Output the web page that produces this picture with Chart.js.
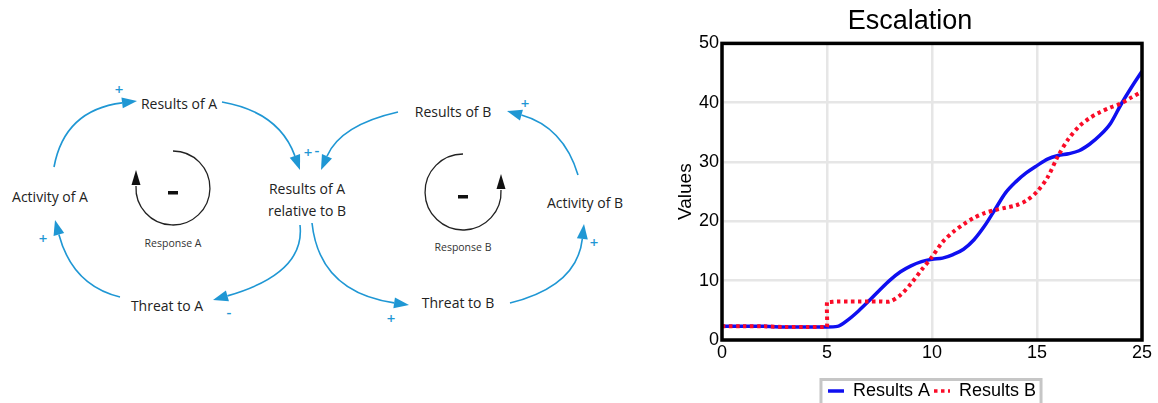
<!DOCTYPE html>
<html>
<head>
<meta charset="utf-8">
<script src="https://cdn.jsdelivr.net/npm/chart.js@4"></script>
<style>
  html, body { margin: 0; padding: 0; background: #fff; }
  #page { position: relative; width: 1158px; height: 403px; overflow: hidden; }
  #diagram { position: absolute; left: 0; top: 0; }
  #chartBox { position: absolute; left: 678px; top: 0; width: 480px; height: 403px; }
</style>
</head>
<body>
<div id="page">
  <svg id="diagram" width="670" height="403" xmlns="http://www.w3.org/2000/svg"></svg>
  <div id="chartBox"><canvas id="chart"></canvas></div>
</div>
<script>
// chart data
var title = 'Escalation';
var seriesNames = ['Results A', 'Results B'];
var xTickLabels = ['0', '5', '10', '15', '25'];

var timeA = [0, 1, 2, 3, 4, 5, 5.5, 6, 6.5, 7, 7.5, 8, 8.5, 9, 9.5, 10, 10.5, 11, 11.5, 12, 12.5, 13, 13.5, 14, 14.5, 15, 15.5, 16, 16.5, 17, 17.5, 18, 18.5, 19, 19.5, 20];
var resultsA = [2.3, 2.3, 2.3, 2.2, 2.2, 2.2, 2.3, 3.4, 4.9, 6.6, 8.4, 10.1, 11.5, 12.5, 13.2, 13.6, 13.8, 14.4, 15.3, 16.9, 19.2, 22.0, 24.8, 26.7, 28.2, 29.4, 30.5, 31.1, 31.4, 31.9, 33.0, 34.5, 36.5, 39.7, 42.6, 45.3];

var timeB = [0, 1, 2, 3, 4, 4.9, 5, 5, 5.1, 5.5, 6, 6.5, 7, 7.5, 8, 8.5, 9, 9.5, 10, 10.5, 11, 11.5, 12, 12.5, 13, 13.5, 14, 14.5, 15, 15.5, 16, 16.5, 17, 17.5, 18, 18.5, 19, 19.5, 20];
var resultsB = [2.3, 2.3, 2.3, 2.2, 2.2, 2.2, 2.2, 6.4, 6.4, 6.5, 6.5, 6.5, 6.5, 6.5, 6.5, 7.6, 9.5, 11.8, 14.0, 16.5, 18.2, 19.5, 20.6, 21.4, 21.9, 22.3, 22.7, 23.5, 25.0, 27.4, 31.0, 33.9, 36.0, 37.4, 38.4, 39.2, 39.9, 40.9, 41.9];

// causal loop diagram (plain svg, not a chart)
var svgNS = 'http://www.w3.org/2000/svg';
var svg = document.getElementById('diagram');
var linkBlue = '#1f97d4';

function el(name, attrs, text) {
  var e = document.createElementNS(svgNS, name);
  for (var k in attrs) e.setAttribute(k, attrs[k]);
  if (text) e.textContent = text;
  svg.appendChild(e);
  return e;
}

function label(x, y, str, size, color, weight) {
  el('text', {
    x: x, y: y, 'text-anchor': 'middle', 'dominant-baseline': 'central',
    'font-family': 'Open Sans, sans-serif', 'font-size': size,
    'font-weight': weight || 'normal', fill: color || '#222'
  }, str);
}

// curved arrow from p0 to tip p2, passing near mid
function link(p0, mid, p2) {
  var c = [2 * mid[0] - (p0[0] + p2[0]) / 2, 2 * mid[1] - (p0[1] + p2[1]) / 2];
  var dx = p2[0] - c[0], dy = p2[1] - c[1];
  var len = Math.hypot(dx, dy);
  var ux = dx / len, uy = dy / len;
  var L = 15, W = 5.5;
  var bx = p2[0] - ux * L, by = p2[1] - uy * L;
  el('path', {
    d: 'M' + p0[0] + ',' + p0[1] + ' Q' + c[0] + ',' + c[1] + ' ' + bx + ',' + by,
    fill: 'none', stroke: linkBlue, 'stroke-width': 1.6
  });
  el('polygon', {
    points: p2[0] + ',' + p2[1] + ' ' + (bx - uy * W) + ',' + (by + ux * W) + ' ' + (bx + uy * W) + ',' + (by - ux * W),
    fill: linkBlue
  });
}

function loopMark(cx, cy, r, clockwise, name) {
  var endX = clockwise ? cx - r : cx + r;
  el('path', {
    d: 'M' + cx + ',' + (cy - r) + ' A' + r + ',' + r + ' 0 1 ' + (clockwise ? 1 : 0) + ' ' + endX + ',' + (cy - 2),
    fill: 'none', stroke: '#222', 'stroke-width': 1.3
  });
  el('polygon', {
    points: endX + ',' + (cy - 18) + ' ' + (endX - 4.5) + ',' + (cy - 3) + ' ' + (endX + 4.5) + ',' + (cy - 3),
    fill: '#111'
  });
  el('rect', { x: cx - 5, y: cy + 3, width: 10, height: 3.5, fill: '#111' });
  label(cx, cy + 55, name, 10.5, '#333');
}

// loop A
link([54, 167], [80, 122], [137, 101]);
link([222, 102], [270, 124], [300, 170]);
link([300, 225], [281, 268], [213, 300]);
link([120, 297], [80, 272], [55, 220]);
// loop B
link([398, 112], [350, 133], [321, 170]);
link([578, 175], [553, 135], [507, 111]);
link([312, 223], [340, 278], [409, 305]);
link([510, 303], [562, 275], [584, 224]);

label(179, 103, 'Results of A', 14);
label(50, 196, 'Activity of A', 14);
label(167, 305, 'Threat to A', 14);
label(307, 188, 'Results of A', 14);
label(307, 210, 'relative to B', 14);
label(453, 111, 'Results of B', 14);
label(585, 202, 'Activity of B', 14);
label(458, 302, 'Threat to B', 14);

label(119, 89, '+', 15, linkBlue, 600);
label(308, 152, '+', 15, linkBlue, 600);
label(317, 149, '-', 15, linkBlue, 600);
label(43, 238, '+', 15, linkBlue, 600);
label(229, 311, '-', 15, linkBlue, 600);
label(525, 103, '+', 15, linkBlue, 600);
label(391, 318, '+', 15, linkBlue, 600);
label(594, 242, '+', 15, linkBlue, 600);

loopMark(173, 188, 37, true, 'Response A');
loopMark(463, 192, 38, false, 'Response B');

// line chart
var chartFont = 'Liberation Sans, Arial, sans-serif';

var frame = {
  id: 'frame',
  afterDraw: function(chart) {
    var ctx = chart.ctx, a = chart.chartArea;
    ctx.save();
    ctx.strokeStyle = '#000';
    ctx.lineWidth = 3.5;
    ctx.strokeRect(a.left, a.top, a.right - a.left, a.bottom - a.top);
    // box round the legend items
    var boxes = chart.legend.legendHitBoxes;
    if (boxes && boxes.length) {
      var l = Math.min.apply(null, boxes.map(function(b) { return b.left; }));
      var r = Math.max.apply(null, boxes.map(function(b) { return b.left + b.width; }));
      var mid = boxes[0].top + boxes[0].height / 2;
      ctx.strokeStyle = '#c6c6c6';
      ctx.lineWidth = 3;
      ctx.strokeRect(l - 7, mid - 11.5, r - l + 12, 30);
    }
    ctx.restore();
  }
};

new Chart(document.getElementById('chart'), {
  type: 'line',
  data: {
    datasets: [{
      label: seriesNames[0],
      data: timeA.map(function(t, i) { return { x: t, y: resultsA[i] }; }),
      borderColor: 'rgb(15,15,240)',
      borderWidth: 3.5,
      pointRadius: 0,
      cubicInterpolationMode: 'monotone',
      order: 1
    }, {
      label: seriesNames[1],
      data: timeB.map(function(t, i) { return { x: t, y: resultsB[i] }; }),
      borderColor: 'rgb(250,12,40)',
      borderWidth: 4,
      borderDash: [3.5, 3.5],
      pointRadius: 0,
      tension: 0.3,
      order: 0
    }]
  },
  options: {
    responsive: true,
    maintainAspectRatio: false,
    animation: false,
    layout: { padding: { left: 0, right: 16, top: 0, bottom: -7 } },
    plugins: {
      title: {
        display: true,
        text: title,
        color: '#000',
        font: { family: chartFont, size: 27, weight: 'normal' },
        padding: { top: 5, bottom: 6 }
      },
      legend: {
        position: 'bottom',
        fullSize: false,
        reverse: true,
        labels: {
          color: '#000',
          font: { family: chartFont, size: 18 },
          usePointStyle: true,
          pointStyle: 'line',
          pointStyleWidth: 16,
          padding: 4,
          generateLabels: function(chart) {
            var items = Chart.defaults.plugins.legend.labels.generateLabels(chart);
            items.forEach(function(item) {
              var ds = chart.data.datasets[item.datasetIndex];
              item.lineDash = ds.borderDash || [];
              item.lineWidth = 3.5;
            });
            return items;
          }
        }
      },
      tooltip: { enabled: false }
    },
    scales: {
      x: {
        type: 'linear',
        min: 0,
        max: 20,
        afterFit: function(scale) { scale.height = 38; },
        ticks: {
          stepSize: 5,
          padding: 2,
          color: '#000',
          maxRotation: 0,
          font: { family: chartFont, size: 18 },
          callback: function(v, i) { return xTickLabels[i]; }
        },
        grid: { color: '#e6e6e6', lineWidth: 2.5, drawTicks: false },
        border: { display: false }
      },
      y: {
        min: 0,
        max: 50,
        afterFit: function(scale) { scale.width = 44; },
        title: {
          display: true,
          text: 'Values',
          color: '#000',
          font: { family: chartFont, size: 19 },
          padding: { top: -4, bottom: 0 }
        },
        ticks: {
          stepSize: 10,
          padding: 3,
          color: '#000',
          font: { family: chartFont, size: 18 }
        },
        grid: { color: '#e6e6e6', lineWidth: 2.5, drawTicks: false },
        border: { display: false }
      }
    }
  },
  plugins: [frame]
});
</script>
</body>
</html>
